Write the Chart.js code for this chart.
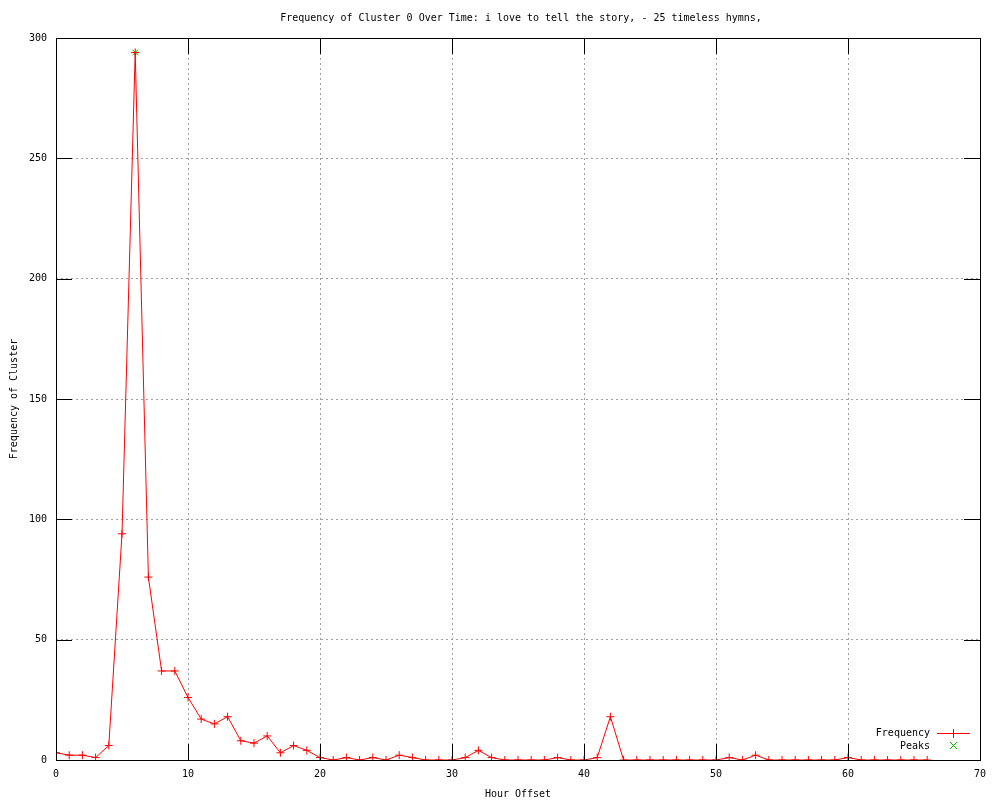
<!DOCTYPE html>
<html>
<head>
<meta charset="utf-8">
<script src="https://cdn.jsdelivr.net/npm/chart.js@4"></script>
<style>
  html, body { margin: 0; padding: 0; background: #fff; }
  #wrap { width: 1000px; height: 800px; }
</style>
</head>
<body>
<div id="wrap"><canvas id="myChart" width="1000" height="800"></canvas></div>
<script>
// hour offsets and cluster counts
const hours = [0,1,2,3,4,5,6,7,8,9,10,11,12,13,14,15,16,17,18,19,20,21,22,23,24,25,26,27,28,29,30,31,32,33,34,35,36,37,38,39,40,41,42,43,44,45,46,47,48,49,50,51,52,53,54,55,56,57,58,59,60,61,62,63,64,65,66];
const frequency = [3,2,2,1,6,94,294,76,37,37,26,17,15,18,8,7,10,3,6,4,1,0,1,0,1,0,2,1,0,0,0,1,4,1,0,0,0,0,1,0,0,1,18,0,0,0,0,0,0,0,0,1,0,2,0,0,0,0,0,0,1,0,0,0,0,0,0];
const peakHours = [6];
const peakValues = [294];
const xTicks = [0,10,20,30,40,50,60,70];
const yTicks = [0,50,100,150,200,250,300];

const titleText = 'Frequency of Cluster 0 Over Time: i love to tell the story, - 25 timeless hymns,';
const monoFont = '"DejaVu Sans Mono", "Liberation Mono", monospace';

// gnuplot-ish frame: title, inner ticks on all sides, legend in lower right
const gnuplotBits = {
    id: 'gnuplotBits',
    afterDraw(chart) {
        const ctx = chart.ctx;
        const a = chart.chartArea;
        const xs = chart.scales.x, ys = chart.scales.y;
        ctx.save();
        ctx.setLineDash([]);
        ctx.strokeStyle = '#000';
        ctx.lineWidth = 1;
        ctx.beginPath();
        xTicks.forEach(v => {
            const px = Math.round(xs.getPixelForValue(v)) + 0.5;
            ctx.moveTo(px, a.bottom); ctx.lineTo(px, a.bottom - 16);
            ctx.moveTo(px, a.top); ctx.lineTo(px, a.top + 16);
        });
        yTicks.forEach(v => {
            const py = Math.round(ys.getPixelForValue(v)) + 0.5;
            ctx.moveTo(a.left, py); ctx.lineTo(a.left + 16, py);
            ctx.moveTo(a.right, py); ctx.lineTo(a.right - 16, py);
        });
        ctx.stroke();
        ctx.strokeRect(Math.round(a.left) + 0.5, Math.round(a.top) + 0.5,
            Math.round(a.right - a.left), Math.round(a.bottom - a.top));

        ctx.fillStyle = '#000';
        ctx.font = '10px ' + monoFont;
        ctx.textAlign = 'center';
        ctx.textBaseline = 'middle';
        ctx.fillText(titleText, 521, 18);

        // legend
        ctx.textAlign = 'right';
        ctx.fillText('Frequency', 930, 733);
        ctx.fillText('Peaks', 930, 746);
        ctx.fillStyle = '#ff0000';
        ctx.fillRect(937, 733, 33, 1);
        ctx.fillRect(953, 729, 1, 9);
        ctx.strokeStyle = '#00c000';
        ctx.beginPath();
        ctx.moveTo(950, 742); ctx.lineTo(957, 749);
        ctx.moveTo(957, 742); ctx.lineTo(950, 749);
        ctx.stroke();
        ctx.restore();
    }
};

new Chart(document.getElementById('myChart'), {
    type: 'line',
    data: {
        datasets: [{
            label: 'Frequency',
            data: hours.map((h, i) => ({ x: h, y: frequency[i] })),
            borderColor: '#ff0000',
            backgroundColor: '#ff0000',
            borderWidth: 1,
            pointStyle: 'cross',
            pointRadius: 4,
            pointBorderWidth: 1,
            tension: 0
        }, {
            label: 'Peaks',
            data: peakHours.map((h, i) => ({ x: h, y: peakValues[i] })),
            showLine: false,
            borderColor: '#00c000',
            backgroundColor: '#00c000',
            pointStyle: 'crossRot',
            pointRadius: 4,
            pointBorderWidth: 1
        }]
    },
    options: {
        responsive: false,
        animation: false,
        layout: { padding: { top: 38, right: 20, left: 8, bottom: 0 } },
        plugins: {
            legend: { display: false },
            title: { display: false },
            tooltip: { enabled: false }
        },
        scales: {
            x: {
                type: 'linear',
                min: 0, max: 70,
                afterBuildTicks: s => { s.ticks = xTicks.map(v => ({ value: v })); },
                afterFit: s => { s.height = 40; },
                grid: { color: '#a0a0a0', drawTicks: false },
                border: { display: false, dash: [2, 3] },
                ticks: { color: '#000', font: { family: monoFont, size: 10 }, padding: 8, maxRotation: 0 },
                title: { display: true, text: 'Hour Offset', color: '#000', font: { family: monoFont, size: 10 }, padding: { top: 2, bottom: 0 } }
            },
            y: {
                min: 0, max: 300,
                afterBuildTicks: s => { s.ticks = yTicks.map(v => ({ value: v })); },
                afterFit: s => { s.width = 48; },
                grid: { color: '#a0a0a0', drawTicks: false },
                border: { display: false, dash: [2, 3] },
                ticks: { color: '#000', font: { family: monoFont, size: 10 }, padding: 9 },
                title: { display: true, text: 'Frequency of Cluster', color: '#000', font: { family: monoFont, size: 10 }, padding: { top: 0, bottom: 0 } }
            }
        }
    },
    plugins: [gnuplotBits]
});
</script>
</body>
</html>
